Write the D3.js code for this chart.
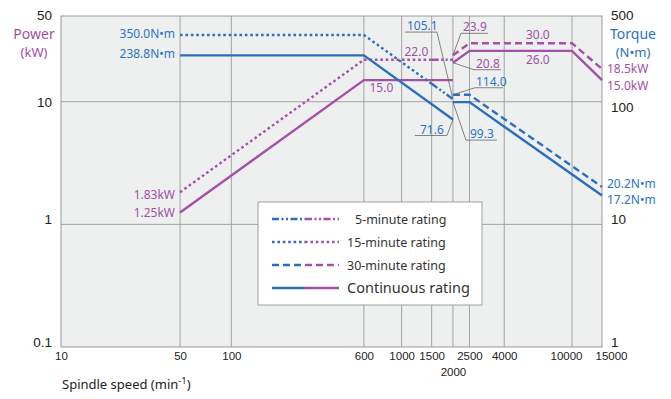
<!DOCTYPE html>
<html>
<head>
<meta charset="utf-8">
<script src="https://cdn.jsdelivr.net/npm/d3@7"></script>
<style>
  body { margin: 0; background: #fff; }
  svg { display: block; }
</style>
</head>
<body>
<svg></svg>
<script>
const width = 671;
const height = 399;
const svg = d3.select("svg").attr("width", width).attr("height", height);

// ---- data ----
const speedTicks = [10, 50, 100, 600, 1000, 1500, 2000, 2500, 4000, 10000, 15000];
const speedGrid = [50, 100, 600, 1000, 1500, 2000, 2500, 4000, 10000];
const powerTicks = [0.1, 1, 10, 50];
const torqueTicks = [1, 10, 100, 500];
const powerGrid = [1, 10];

// power (kW), [speed, value]
const contPowerLow = [[50, 1.25], [600, 15.0], [2000, 15.0]];
const contPowerHigh = [[2000, 20.8], [2500, 26.0], [10000, 26.0], [15000, 15.0]];
const min15PowerLow = [[50, 1.83], [600, 22.0], [1500, 22.0]];
const min5PowerLow = [[1500, 22.0], [2000, 22.0]];
const min30PowerHigh = [[2000, 23.9], [2500, 30.0], [10000, 30.0], [15000, 18.5]];

// torque (N·m), [speed, value]
const contTorqueLow = [[50, 238.8], [600, 238.8], [2000, 71.6]];
const contTorqueHigh = [[2000, 99.3], [2500, 99.3], [15000, 17.2]];
const min15TorqueLow = [[50, 350.0], [600, 350.0], [1500, 140.0]];
const min5TorqueLow = [[1500, 140.0], [2000, 105.1]];
const min30TorqueHigh = [[2000, 114.0], [2500, 114.0], [15000, 20.2]];

const legendLabels = ["5-minute rating", "15-minute rating", "30-minute rating", "Continuous rating"];

// ---- look ----
const blue = "#2a6fbe";
const purple = "#a550a8";
const textBlue = "#2d72c0";
const textPurple = "#a24fa6";
const dashes = {
  min5: "7,2.5,2,2.5,2,2.5",
  min15: "2.6,2.8",
  min30: "7,4",
  cont: null
};
const labelFont = "'Noto Sans', sans-serif";
const numFont = "'Liberation Sans', Arial, sans-serif";

const plotLeft = 61, plotRight = 602, plotTop = 16, plotBottom = 347;

const x = d3.scaleLog().domain([10, 15000]).range([plotLeft, plotRight]);
const yP = d3.scaleLog().domain([0.1, 50]).range([plotBottom, plotTop]);
const yT = d3.scaleLog().domain([1, 500]).range([plotBottom, plotTop]);

// plot background
svg.append("rect")
  .attr("x", plotLeft).attr("y", plotTop)
  .attr("width", plotRight - plotLeft).attr("height", plotBottom - plotTop)
  .attr("fill", "#eef0f0");

// grid
svg.append("g").selectAll("line")
  .data(speedGrid).join("line")
  .attr("x1", d => x(d)).attr("x2", d => x(d))
  .attr("y1", plotTop).attr("y2", plotBottom)
  .attr("stroke", "#a3a3a3").attr("stroke-width", 1);

svg.append("g").selectAll("line")
  .data(powerGrid).join("line")
  .attr("x1", plotLeft).attr("x2", plotRight)
  .attr("y1", d => yP(d)).attr("y2", d => yP(d))
  .attr("stroke", "#a3a3a3").attr("stroke-width", 1);

svg.append("rect")
  .attr("x", plotLeft).attr("y", plotTop)
  .attr("width", plotRight - plotLeft).attr("height", plotBottom - plotTop)
  .attr("fill", "none").attr("stroke", "#9a9a9a").attr("stroke-width", 1);

// axes
const xShift = { 10000: -6, 15000: 9 };
const xAxis = svg.append("g")
  .attr("transform", `translate(0, ${plotBottom})`)
  .call(d3.axisBottom(x).tickValues(speedTicks).tickFormat(d3.format("d")).tickSize(0).tickPadding(5));
xAxis.select(".domain").remove();
xAxis.selectAll("text")
  .attr("font-family", numFont).attr("font-size", 11.5).attr("fill", "#222")
  .attr("dx", d => xShift[d] || 0)
  .attr("dy", d => d === 2000 ? "2.05em" : "0.71em");

// small vertical nudges to match the original label placement
const yShiftL = { 0.1: -5, 1: -5, 10: 0, 50: -1 };
const yShiftR = { 1: -5, 10: -5, 100: 5, 500: -1 };

const yAxisL = svg.append("g")
  .attr("transform", `translate(${plotLeft}, 0)`)
  .call(d3.axisLeft(yP).tickValues(powerTicks).tickFormat(d => d).tickSize(0).tickPadding(9));
yAxisL.select(".domain").remove();
yAxisL.selectAll("text")
  .attr("font-family", numFont).attr("font-size", 13.5).attr("fill", "#222")
  .attr("y", d => yShiftL[d]);

const yAxisR = svg.append("g")
  .attr("transform", `translate(${plotRight}, 0)`)
  .call(d3.axisRight(yT).tickValues(torqueTicks).tickFormat(d => d).tickSize(0).tickPadding(9));
yAxisR.select(".domain").remove();
yAxisR.selectAll("text")
  .attr("font-family", numFont).attr("font-size", 13.5).attr("fill", "#222")
  .attr("y", d => yShiftR[d]);

// axis titles
svg.append("text").attr("x", 34).attr("y", 39).attr("text-anchor", "middle")
  .attr("font-family", labelFont).attr("font-size", 14).attr("fill", textPurple).text("Power");
svg.append("text").attr("x", 34).attr("y", 56.5).attr("text-anchor", "middle")
  .attr("font-family", labelFont).attr("font-size", 13).attr("fill", textPurple).text("(kW)");
svg.append("text").attr("x", 633).attr("y", 39).attr("text-anchor", "middle")
  .attr("font-family", labelFont).attr("font-size", 14).attr("fill", textBlue).text("Torque");
svg.append("text").attr("x", 633).attr("y", 57).attr("text-anchor", "middle")
  .attr("font-family", labelFont).attr("font-size", 13).attr("fill", textBlue).text("(N•m)");

const xTitle = svg.append("text").attr("x", 62).attr("y", 389)
  .attr("font-family", labelFont).attr("font-size", 13).attr("fill", "#222");
xTitle.append("tspan").text("Spindle speed (min");
xTitle.append("tspan").attr("dy", -5).attr("font-size", 9.5).text("-1");
xTitle.append("tspan").attr("dy", 5).text(")");

// ---- curves ----
const powerLine = d3.line().x(d => x(d[0])).y(d => yP(d[1]));
const torqueLine = d3.line().x(d => x(d[0])).y(d => yT(d[1]));

const curves = [
  { data: min15PowerLow, gen: powerLine, color: purple, dash: dashes.min15 },
  { data: min5PowerLow, gen: powerLine, color: purple, dash: dashes.min5 },
  { data: min30PowerHigh, gen: powerLine, color: purple, dash: dashes.min30 },
  { data: contPowerLow, gen: powerLine, color: purple, dash: dashes.cont },
  { data: contPowerHigh, gen: powerLine, color: purple, dash: dashes.cont },
  { data: min15TorqueLow, gen: torqueLine, color: blue, dash: dashes.min15 },
  { data: min5TorqueLow, gen: torqueLine, color: blue, dash: dashes.min5 },
  { data: min30TorqueHigh, gen: torqueLine, color: blue, dash: dashes.min30 },
  { data: contTorqueLow, gen: torqueLine, color: blue, dash: dashes.cont },
  { data: contTorqueHigh, gen: torqueLine, color: blue, dash: dashes.cont }
];

svg.append("g").selectAll("path")
  .data(curves).join("path")
  .attr("d", d => d.gen(d.data))
  .attr("fill", "none")
  .attr("stroke", d => d.color)
  .attr("stroke-width", 2.4)
  .attr("stroke-dasharray", d => d.dash);

// ---- labels ----
function pos(at, axis) {
  return [x(at[0]), axis === "p" ? yP(at[1]) : yT(at[1])];
}

// end labels
const endLabels = [
  { text: "350.0N•m", at: [50, 350.0], axis: "t", dx: -5, dy: 3, anchor: "end", color: textBlue },
  { text: "238.8N•m", at: [50, 238.8], axis: "t", dx: -5, dy: 3, anchor: "end", color: textBlue },
  { text: "1.83kW", at: [50, 1.83], axis: "p", dx: -5, dy: 7, anchor: "end", color: textPurple },
  { text: "1.25kW", at: [50, 1.25], axis: "p", dx: -5, dy: 5, anchor: "end", color: textPurple },
  { text: "18.5kW", at: [15000, 18.5], axis: "p", dx: 5, dy: 4, anchor: "start", color: textPurple },
  { text: "15.0kW", at: [15000, 15.0], axis: "p", dx: 5, dy: 10, anchor: "start", color: textPurple },
  { text: "20.2N•m", at: [15000, 20.2], axis: "t", dx: 5, dy: 1, anchor: "start", color: textBlue },
  { text: "17.2N•m", at: [15000, 17.2], axis: "t", dx: 5, dy: 9, anchor: "start", color: textBlue },
  { text: "15.0", at: [760, 15.0], axis: "p", dx: 0, dy: 12, anchor: "middle", color: textPurple },
  { text: "22.0", at: [1220, 22.0], axis: "p", dx: 0, dy: -4, anchor: "middle", color: textPurple },
  { text: "30.0", at: [6300, 30.0], axis: "p", dx: 0, dy: -4, anchor: "middle", color: textPurple },
  { text: "26.0", at: [6300, 26.0], axis: "p", dx: 0, dy: 13, anchor: "middle", color: textPurple }
];

svg.append("g").selectAll("text")
  .data(endLabels).join("text")
  .attr("x", d => pos(d.at, d.axis)[0] + d.dx)
  .attr("y", d => pos(d.at, d.axis)[1] + d.dy)
  .attr("text-anchor", d => d.anchor)
  .attr("font-family", labelFont).attr("font-size", 12)
  .attr("fill", d => d.color)
  .text(d => d.text);

// callouts with leader and underline
const callouts = [
  { text: "105.1", at: [2000, 105.1], axis: "t", elbow: [-16, -67], end: [-48, -67], tx: -46, ty: -69, color: textBlue },
  { text: "114.0", at: [2000, 114.0], axis: "t", elbow: [22, -7], end: [50, -7], tx: 23, ty: -9, color: textBlue },
  { text: "71.6", at: [2000, 71.6], axis: "t", elbow: [-6, 16], end: [-38, 16], tx: -33, ty: 14, color: textBlue },
  { text: "99.3", at: [2000, 99.3], axis: "t", elbow: [13, 38], end: [44, 38], tx: 17, ty: 36, color: textBlue },
  { text: "23.9", at: [2000, 23.9], axis: "p", elbow: [8, -22], end: [35, -22], tx: 10, ty: -24, color: textPurple },
  { text: "20.8", at: [2000, 20.8], axis: "p", elbow: [21, 7], end: [48, 7], tx: 23, ty: 5, color: textPurple }
];

const co = svg.append("g");
co.selectAll("polyline")
  .data(callouts).join("polyline")
  .attr("points", d => {
    const [px, py] = pos(d.at, d.axis);
    return [[px, py], [px + d.elbow[0], py + d.elbow[1]], [px + d.end[0], py + d.end[1]]].join(" ");
  })
  .attr("fill", "none").attr("stroke", "#666").attr("stroke-width", 0.8);
co.selectAll("text")
  .data(callouts).join("text")
  .attr("x", d => pos(d.at, d.axis)[0] + d.tx)
  .attr("y", d => pos(d.at, d.axis)[1] + d.ty)
  .attr("font-family", labelFont).attr("font-size", 12)
  .attr("fill", d => d.color)
  .text(d => d.text);

// ---- legend ----
const legend = svg.append("g").attr("transform", "translate(258, 202)");
legend.append("rect")
  .attr("width", 224).attr("height", 103)
  .attr("fill", "#fff").attr("stroke", "#a0a0a0").attr("stroke-width", 1);

const legendDash = [dashes.min5, dashes.min15, dashes.min30, dashes.cont];
const rows = legend.selectAll("g.row")
  .data(legendLabels).join("g")
  .attr("class", "row")
  .attr("transform", (d, i) => `translate(0, ${17 + i * 23})`);

rows.append("line")
  .attr("x1", 14).attr("x2", 47).attr("y1", 0).attr("y2", 0)
  .attr("stroke", blue).attr("stroke-width", 2.4)
  .attr("stroke-dasharray", (d, i) => legendDash[i]);
rows.append("line")
  .attr("x1", 47).attr("x2", 81).attr("y1", 0).attr("y2", 0)
  .attr("stroke", purple).attr("stroke-width", 2.4)
  .attr("stroke-dasharray", (d, i) => legendDash[i]);
rows.append("text")
  .attr("x", (d, i) => i === 0 ? 97 : 89)
  .attr("y", 0).attr("dy", "0.36em")
  .attr("font-family", labelFont)
  .attr("font-size", (d, i) => i === 3 ? 14.5 : 12.5)
  .attr("fill", "#333")
  .text(d => d);
</script>
</body>
</html>
